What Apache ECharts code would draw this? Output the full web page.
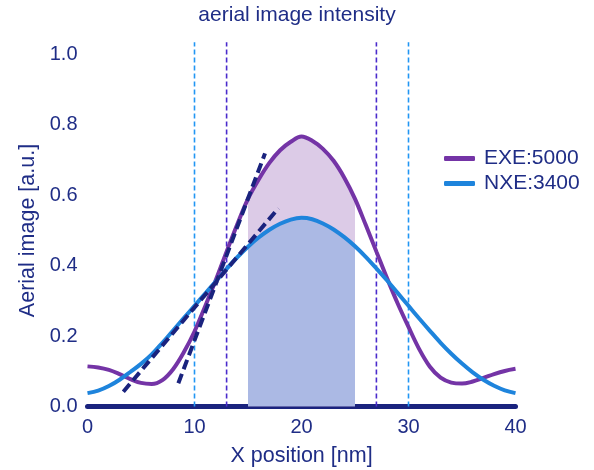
<!DOCTYPE html>
<html>
<head>
<meta charset="utf-8">
<script src="https://cdn.jsdelivr.net/npm/echarts@6/dist/echarts.min.js"></script>
<style>
  html, body { margin: 0; padding: 0; background: #fff; }
  #chart { width: 594px; height: 470px; }
</style>
</head>
<body>
<div id="chart"></div>
<script>
// Positions along the line-space pattern, in nm
const positions = [0,1,2,3,4,5,6,7,8,9,10,11,12,13,14,15,16,17,18,19,20,
                   21,22,23,24,25,26,27,28,29,30,31,32,33,34,35,36,37,38,39,40];

// Aerial image intensity profiles [a.u.]
const exe5000 = [0.114,0.111,0.104,0.092,0.078,0.067,0.064,0.075,0.106,0.154,0.213,
                 0.285,0.360,0.440,0.518,0.590,0.645,0.692,0.728,0.752,0.767,
                 0.755,0.732,0.698,0.650,0.590,0.516,0.440,0.364,0.292,0.226,
                 0.163,0.113,0.082,0.068,0.065,0.071,0.081,0.092,0.101,0.107];
const nxe3400 = [0.038,0.045,0.058,0.076,0.098,0.121,0.148,0.181,0.216,0.251,0.286,
                 0.321,0.356,0.391,0.424,0.454,0.480,0.502,0.519,0.531,0.536,
                 0.532,0.520,0.503,0.481,0.455,0.425,0.392,0.358,0.322,0.286,
                 0.250,0.215,0.181,0.150,0.122,0.097,0.076,0.059,0.046,0.038];

// Printed feature window (shaded region), nm
const windowStart = 15;
const windowEnd = 25;

// Edge markers: image edges for each tool, nm
const nxeEdges = [10, 30];
const exeEdges = [13, 27];
const edgeTop = 1.035;

// Slope (NILS) tangents at the crossing point: [x, y] endpoints
const exeTangent = [[8.49, 0.066], [16.59, 0.719]];
const nxeTangent = [[3.35, 0.042], [17.83, 0.563]];

// Axis ticks
const xTicks = { min: 0, max: 40, interval: 10 };
const yTicks = { min: 0, max: 1.0, interval: 0.2 };

const fontFamily = 'Liberation Sans, Arial, sans-serif';
const textColor = '#1f2d86';
const navy = '#1a237e';
const exeColor = '#7434a6';
const nxeColor = '#1e84dc';

function pairs(xs, ys) { return xs.map((x, i) => [x, ys[i]]); }
function windowSlice(ys) {
  return positions.map((x, i) => [x, ys[i]]).filter(p => p[0] >= windowStart && p[0] <= windowEnd);
}

const smoothness = 0.35;

const edgeSeries = [];
nxeEdges.forEach(x => edgeSeries.push({
  type: 'line', data: [[x, 0], [x, edgeTop]], symbol: 'none', clip: false, z: 3,
  lineStyle: { color: '#2196f3', width: 1.6, type: [5, 3] }, silent: true
}));
exeEdges.forEach(x => edgeSeries.push({
  type: 'line', data: [[x, 0], [x, edgeTop]], symbol: 'none', clip: false, z: 3,
  lineStyle: { color: '#4a2bcc', width: 1.6, type: [5, 3] }, silent: true
}));

const chart = echarts.init(document.getElementById('chart'), null, { renderer: 'canvas' });
chart.setOption({
  animation: false,
  backgroundColor: '#ffffff',
  title: {
    text: 'aerial image intensity',
    left: 'center', top: 0,
    textStyle: { fontFamily, fontSize: 21, fontWeight: 'normal', color: textColor }
  },
  grid: { left: 87.5, right: 78.5, top: 54.5, bottom: 63.5, outerBoundsMode: 'none' },
  legend: {
    data: ['EXE:5000', 'NXE:3400'],
    orient: 'vertical', left: 439, top: 143,
    icon: 'roundRect', itemWidth: 31, itemHeight: 5, itemGap: 4,
    textStyle: { fontFamily, fontSize: 21, color: textColor, padding: [0, 0, 0, 4] }
  },
  xAxis: {
    type: 'value', min: xTicks.min, max: xTicks.max, interval: xTicks.interval,
    name: 'X position [nm]', nameLocation: 'middle', nameGap: 39,
    nameTextStyle: { fontFamily, fontSize: 21.5, color: textColor },
    axisLine: { show: true, onZero: true, lineStyle: { color: navy, width: 5 } },
    axisTick: { show: false },
    splitLine: { show: false },
    axisLabel: { margin: 11, fontFamily, fontSize: 20, color: textColor }
  },
  yAxis: {
    type: 'value', min: yTicks.min, max: yTicks.max, interval: yTicks.interval,
    name: 'Aerial image [a.u.]', nameLocation: 'middle', nameGap: 42,
    nameTextStyle: { fontFamily, fontSize: 21.5, color: textColor },
    axisLine: { show: false },
    axisTick: { show: false },
    splitLine: { show: false },
    axisLabel: { margin: 10, fontFamily, fontSize: 20, color: textColor,
                 formatter: v => v.toFixed(1) }
  },
  series: [
    {
      name: 'EXE window', type: 'line', data: windowSlice(exe5000), smooth: smoothness,
      symbol: 'none', lineStyle: { width: 0 }, areaStyle: { color: '#dccbe7', opacity: 1 }, z: 1, silent: true
    },
    {
      name: 'NXE window', type: 'line', data: windowSlice(nxe3400), smooth: smoothness,
      symbol: 'none', lineStyle: { width: 0 }, areaStyle: { color: '#abb9e4', opacity: 1 }, z: 1, silent: true
    },
    ...edgeSeries,
    {
      name: 'EXE:5000', type: 'line', data: pairs(positions, exe5000), smooth: smoothness,
      symbol: 'none', color: exeColor, lineStyle: { color: exeColor, width: 4 }, z: 4
    },
    {
      name: 'NXE:3400', type: 'line', data: pairs(positions, nxe3400), smooth: smoothness,
      symbol: 'none', color: nxeColor, lineStyle: { color: nxeColor, width: 4 }, z: 4
    },
    {
      name: 'EXE slope', type: 'line', data: exeTangent, symbol: 'none', z: 5, silent: true,
      lineStyle: { color: navy, width: 4, type: [10, 5] }
    },
    {
      name: 'NXE slope', type: 'line', data: nxeTangent, symbol: 'none', z: 5, silent: true,
      lineStyle: { color: navy, width: 4, type: [10, 5] }
    }
  ]
});
</script>
</body>
</html>
